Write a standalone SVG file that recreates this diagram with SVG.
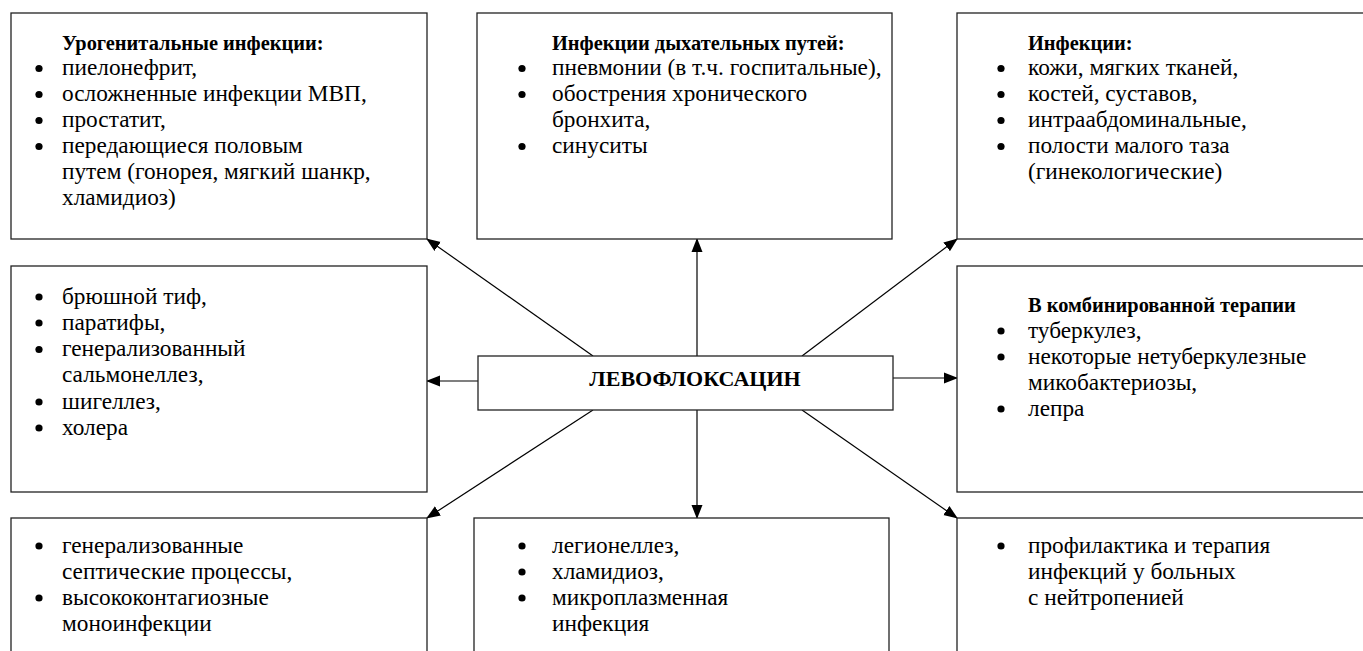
<svg xmlns="http://www.w3.org/2000/svg" width="1363" height="651" viewBox="0 0 1363 651">
<style>
.box{fill:#fff;stroke:#222;stroke-width:1.3}
.t{font-family:"Liberation Serif","Times New Roman",serif;font-size:23.3px;fill:#000}
.h{font-weight:bold;font-size:20.4px}
.c{font-family:"Liberation Serif","Times New Roman",serif;font-size:22px;font-weight:bold;fill:#000}
.b{fill:#000}
.ln{stroke:#000;stroke-width:1.2;fill:none;marker-end:url(#ah)}
</style>
<defs>
<marker id="ah" markerUnits="userSpaceOnUse" markerWidth="14" markerHeight="12" refX="13" refY="5.5" orient="auto" viewBox="0 0 14 11">
<path d="M0,0 L14,5.5 L0,11 z" fill="#000"/>
</marker>
</defs>
<rect width="1363" height="651" fill="#fff"/>
<g id="connectors">
<line class="ln" x1="697" y1="356" x2="697" y2="239"/>
<line class="ln" x1="697" y1="410" x2="697" y2="518"/>
<line class="ln" x1="522" y1="381" x2="427" y2="381"/>
<line class="ln" x1="832" y1="378" x2="957" y2="378"/>
<line class="ln" x1="593" y1="356" x2="427" y2="239"/>
<line class="ln" x1="802" y1="356" x2="957" y2="239"/>
<line class="ln" x1="593" y1="410" x2="427" y2="518"/>
<line class="ln" x1="802" y1="410" x2="957" y2="518"/>
</g>
<g id="center">
<rect class="box" x="478" y="356" width="415" height="54"/>
<text class="c" x="695" y="386" text-anchor="middle">ЛЕВОФЛОКСАЦИН</text>
</g>
<g id="urogenital">
<rect class="box" x="11" y="13" width="416" height="226"/>
<text class="t h" x="62" y="50">Урогенитальные инфекции:</text>
<circle class="b" cx="39" cy="68.5" r="3.6"/>
<text class="t" x="62" y="75">пиелонефрит,</text>
<circle class="b" cx="39" cy="94.5" r="3.6"/>
<text class="t" x="62" y="101">осложненные инфекции МВП,</text>
<circle class="b" cx="39" cy="120.5" r="3.6"/>
<text class="t" x="62" y="127">простатит,</text>
<circle class="b" cx="39" cy="146.5" r="3.6"/>
<text class="t" x="62" y="153">передающиеся половым</text>
<text class="t" x="62" y="179">путем (гонорея, мягкий шанкр,</text>
<text class="t" x="62" y="205">хламидиоз)</text>
</g>
<g id="respiratory">
<rect class="box" x="477" y="13" width="415" height="226"/>
<text class="t h" x="552" y="50">Инфекции дыхательных путей:</text>
<circle class="b" cx="522" cy="68.5" r="3.6"/>
<text class="t" x="552" y="75">пневмонии (в т.ч. госпитальные),</text>
<circle class="b" cx="522" cy="94.5" r="3.6"/>
<text class="t" x="552" y="101">обострения хронического</text>
<text class="t" x="552" y="127">бронхита,</text>
<circle class="b" cx="522" cy="146.5" r="3.6"/>
<text class="t" x="552" y="153">синуситы</text>
</g>
<g id="infections">
<rect class="box" x="957" y="13" width="420" height="226"/>
<text class="t h" x="1028" y="50">Инфекции:</text>
<circle class="b" cx="1001" cy="68.5" r="3.6"/>
<text class="t" x="1028" y="75">кожи, мягких тканей,</text>
<circle class="b" cx="1001" cy="94.5" r="3.6"/>
<text class="t" x="1028" y="101">костей, суставов,</text>
<circle class="b" cx="1001" cy="120.5" r="3.6"/>
<text class="t" x="1028" y="127">интраабдоминальные,</text>
<circle class="b" cx="1001" cy="146.5" r="3.6"/>
<text class="t" x="1028" y="153">полости малого таза</text>
<text class="t" x="1028" y="179">(гинекологические)</text>
</g>
<g id="typhoid">
<rect class="box" x="11" y="266" width="416" height="226"/>
<circle class="b" cx="39" cy="297" r="3.6"/>
<text class="t" x="62" y="303.5">брюшной тиф,</text>
<circle class="b" cx="39" cy="323" r="3.6"/>
<text class="t" x="62" y="329.5">паратифы,</text>
<circle class="b" cx="39" cy="349.5" r="3.6"/>
<text class="t" x="62" y="356">генерализованный</text>
<text class="t" x="62" y="382">сальмонеллез,</text>
<circle class="b" cx="39" cy="402" r="3.6"/>
<text class="t" x="62" y="408.5">шигеллез,</text>
<circle class="b" cx="39" cy="428" r="3.6"/>
<text class="t" x="62" y="434.5">холера</text>
</g>
<g id="combined">
<rect class="box" x="957" y="266" width="420" height="226"/>
<text class="t h" x="1028" y="312">В комбинированной терапии</text>
<circle class="b" cx="1001" cy="331" r="3.6"/>
<text class="t" x="1028" y="337.5">туберкулез,</text>
<circle class="b" cx="1001" cy="357" r="3.6"/>
<text class="t" x="1028" y="363.5">некоторые нетуберкулезные</text>
<text class="t" x="1028" y="389.5">микобактериозы,</text>
<circle class="b" cx="1001" cy="409" r="3.6"/>
<text class="t" x="1028" y="415.5">лепра</text>
</g>
<g id="septic">
<rect class="box" x="11" y="518" width="416" height="160"/>
<circle class="b" cx="39" cy="546" r="3.6"/>
<text class="t" x="62" y="552.5">генерализованные</text>
<text class="t" x="62" y="578.5">септические процессы,</text>
<circle class="b" cx="39" cy="598" r="3.6"/>
<text class="t" x="62" y="604.5">высококонтагиозные</text>
<text class="t" x="62" y="630.5">моноинфекции</text>
</g>
<g id="legionella">
<rect class="box" x="474" y="518" width="415" height="160"/>
<circle class="b" cx="522" cy="546" r="3.6"/>
<text class="t" x="552" y="552.5">легионеллез,</text>
<circle class="b" cx="522" cy="572" r="3.6"/>
<text class="t" x="552" y="578.5">хламидиоз,</text>
<circle class="b" cx="522" cy="598" r="3.6"/>
<text class="t" x="552" y="604.5">микроплазменная</text>
<text class="t" x="552" y="630.5">инфекция</text>
</g>
<g id="neutropenia">
<rect class="box" x="957" y="518" width="420" height="160"/>
<circle class="b" cx="1001" cy="546" r="3.6"/>
<text class="t" x="1028" y="552.5">профилактика и терапия</text>
<text class="t" x="1028" y="578.5">инфекций у больных</text>
<text class="t" x="1028" y="604.5">с нейтропенией</text>
</g>
</svg>
